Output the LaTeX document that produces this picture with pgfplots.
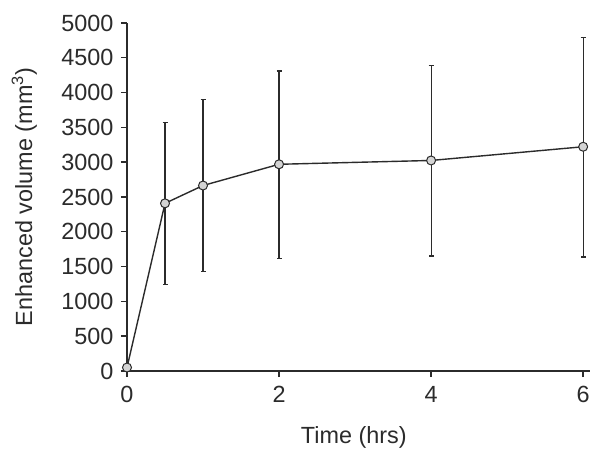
\documentclass[border=0pt]{standalone}
\usepackage{pgfplots}
\pgfplotsset{compat=1.18}
\usepackage{fontspec}
\setmainfont{Liberation Sans}
\definecolor{axc}{HTML}{2B2B2B}
\definecolor{mk}{HTML}{D4D4D4}
\begin{document}
\begin{tikzpicture}
\begin{axis}[
  at={(127bp,89bp)}, anchor=south west,
  scale only axis, width=463bp, height=348bp,
  xmin=0, xmax=6.09, ymin=0, ymax=5000,
  axis x line=bottom, axis y line=left,
  axis line style={-, axc, line width=1.6bp},
  xtick={0,2,4,6}, ytick={0,500,...,5000},
  tick style={axc, line width=1.4bp},
  tick align=outside, major tick length=6bp,
  tick label style={font=\fontsize{23.5}{26}\selectfont, text=axc},
  /pgf/number format/assume math mode=true,
  /pgf/number format/1000 sep={},
  xticklabel style={yshift=-6bp},
  yticklabel style={xshift=-4bp},
  xlabel={Time (hrs)}, ylabel={Enhanced volume (mm\textsuperscript{3})},
  label style={font=\fontsize{23.5}{26}\selectfont, text=axc},
  xlabel style={at={(axis description cs:0.49,-0.19)}, anchor=center},
  ylabel style={at={(axis description cs:-0.222,0.5)}, anchor=center},
  clip=false,
]
\addplot+[axc, line width=1.4bp, mark=*, mark size=4.5bp,
  mark options={fill=mk, draw=axc, line width=1bp},
  error bars/.cd, y dir=both, y explicit,
  error bar style={axc, line width=1.2bp},
  error mark options={rotate=90, mark size=2.5bp, axc, line width=1.2bp}]
coordinates {
  (0,50) +- (0,0)
  (0.5,2409) += (0,1157) -= (0,1169)
  (1,2665) += (0,1240) -= (0,1238)
  (2,2970) += (0,1340) -= (0,1351)
  (4,3025) += (0,1360) -= (0,1373)
  (6,3222) += (0,1575) -= (0,1584)
};
\end{axis}
\pgfresetboundingbox
\path (0,0) rectangle (600bp,460bp);
\end{tikzpicture}
\end{document}
